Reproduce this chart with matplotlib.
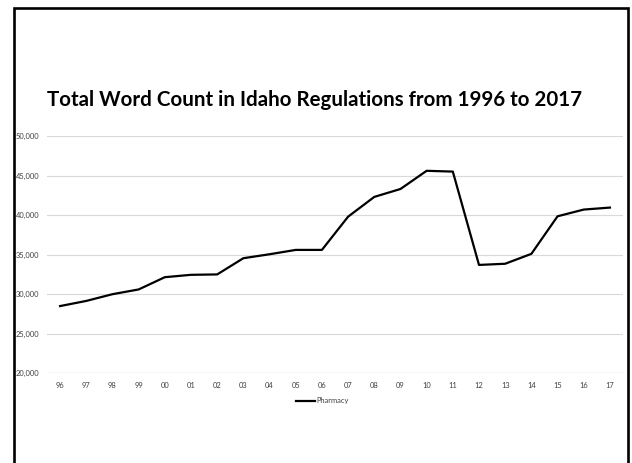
import matplotlib
matplotlib.use("Agg")
import matplotlib.pyplot as plt
from matplotlib.patches import Rectangle
from matplotlib.ticker import FuncFormatter

years = ["96", "97", "98", "99", "00", "01", "02", "03", "04", "05", "06",
         "07", "08", "09", "10", "11", "12", "13", "14", "15", "16", "17"]
pharmacy = [28500, 29150, 30000, 30600, 32150, 32450, 32500, 34550, 35050,
            35600, 35600, 39800, 42300, 43300, 45600, 45500, 33700, 33850,
            35100, 39850, 40700, 40950]
y_ticks = [20000, 25000, 30000, 35000, 40000, 45000, 50000]

plt.rcParams["font.family"] = ["Lato", "DejaVu Sans"]

W, H = 632, 463
fig = plt.figure(figsize=(W / 100, H / 100), dpi=100)
fig.patch.set_facecolor("white")

# plot area in pixel coordinates
left, right, top, bottom = 47, 623, 136, 373.3
ax = fig.add_axes([left / W, 1 - bottom / H, (right - left) / W, (bottom - top) / H])

x = list(range(len(years)))
ax.plot(x, pharmacy, color="black", linewidth=1.6, label="Pharmacy",
        solid_joinstyle="round")

ax.set_xlim(-0.5, len(years) - 0.5)
ax.set_ylim(y_ticks[0], y_ticks[-1])
ax.set_yticks(y_ticks)
ax.yaxis.set_major_formatter(FuncFormatter(lambda v, p: f"{int(v):,}"))
ax.set_xticks(x)
ax.set_xticklabels(years)

for s in ax.spines.values():
    s.set_visible(False)
ax.grid(axis="y", color="#d9d9d9", linewidth=0.8)
ax.set_axisbelow(True)
ax.tick_params(axis="both", length=0, labelsize=5.4, colors="#404040")
ax.tick_params(axis="x", pad=6)
ax.tick_params(axis="y", pad=5.5)
ax.axhline(y_ticks[0], color="#d9d9d9", linewidth=0.9, zorder=1)

fig.text(315 / W, 1 - 99.5 / H, "Total Word Count in Idaho Regulations from 1996 to 2017",
         ha="center", va="center", fontsize=14.8, fontweight="bold", color="black")

leg = fig.legend(loc="center", bbox_to_anchor=(322 / W, 1 - 401 / H), frameon=False,
                 fontsize=5.4, handlelength=2.6, handletextpad=0.1, borderpad=0)
for t in leg.get_texts():
    t.set_color("#404040")

# outer frame
fig.add_artist(Rectangle((14 / W, -0.05), (627.5 - 14) / W, 1.05 - 8 / H,
                         transform=fig.transFigure, fill=False,
                         edgecolor="black", linewidth=1.9))

fig.savefig("out.png", dpi=100, facecolor="white")
